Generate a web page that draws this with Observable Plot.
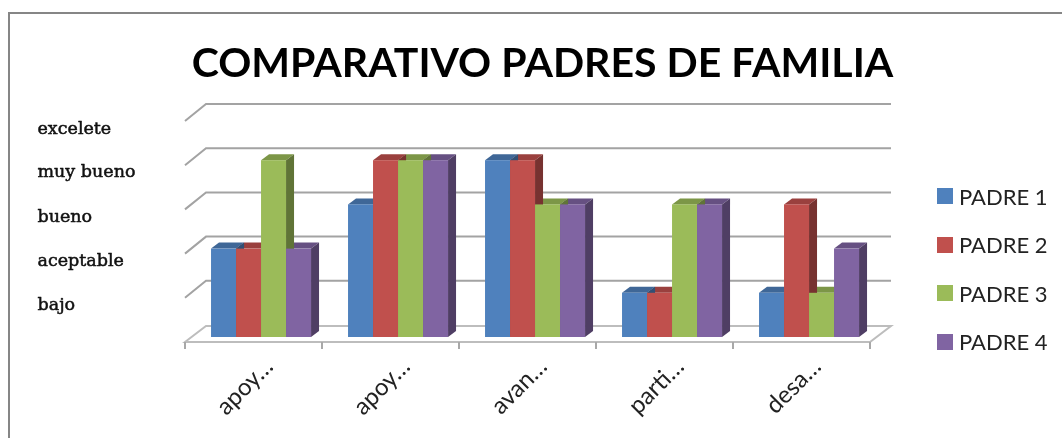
<!DOCTYPE html>
<html><head><meta charset="utf-8">
<script src="https://cdn.jsdelivr.net/npm/d3@7"></script>
<script src="https://cdn.jsdelivr.net/npm/@observablehq/plot@0.6"></script>
<style>
html,body{margin:0;padding:0;background:#fff;overflow:hidden}
#wrap{position:relative;width:1062px;height:438px;overflow:hidden;filter:blur(0.35px)}
#border{position:absolute;left:8px;top:12px;width:1080px;height:460px;border:2px solid #868686;box-sizing:border-box}
#title{position:absolute;left:190px;top:37px;width:705px;text-align:center;font:bold 41px Lato,sans-serif;color:#000;white-space:nowrap}
#legend{position:absolute;left:937px;top:172px;font:22px Lato,sans-serif;color:#222}
.item{display:flex;align-items:center;height:48.5px;white-space:nowrap}
.sw{width:16px;height:16px;margin-right:6px;display:inline-block}
svg{position:absolute;left:0;top:0}
</style></head><body><div id="wrap"><div id="border"></div></div>
<script>
const chartTitle = "COMPARATIVO PADRES DE FAMILIA";
const categories = ["apoy…","apoy…","avan…","parti…","desa…"];
const seriesNames = ["PADRE 1","PADRE 2","PADRE 3","PADRE 4"];
const colors = ["#4f81bd","#c0504d","#9bbb59","#8064a2"];
const padre1 = [2,3,4,1,1];
const padre2 = [2,4,4,1,3];
const padre3 = [4,4,3,3,1];
const padre4 = [2,4,3,3,2];
const levelLabels = ["bajo","aceptable","bueno","muy bueno","excelete"];
const levelLabelValues = [0.74,1.75,2.74,3.76,4.73];
const gridValues = [0,1,2,3,4,5];

const table = [padre1,padre2,padre3,padre4].flatMap((vals,s)=>vals.map((v,i)=>({i,s,v})));
const gap = 0.19, barW = 0.1825;
const x1 = d => d.i + gap + d.s*barW;
const x2 = d => x1(d) + barW;

const darker = (c,k)=>{const r=d3.rgb(c);return d3.rgb(r.r*k,r.g*k,r.b*k).formatHex();};

function walls(index,{x,y}){
  const g = d3.create("svg:g").attr("fill","none").attr("stroke","#a3a3a3").attr("stroke-width",2);
  const x0=x(0), xE=x(5);
  const floor = y(0);
  for(const v of gridValues){
    const py = y(v);
    if(v===0) continue;
    g.append("path").attr("d",`M${x0},${py+5}L${x0+21},${py-12}H${xE+21}`);
  }
  const fl = floor+5;
  g.append("path").attr("stroke","#bdbdbd").attr("d",`M${x0},${fl}L${x0+21},${fl-16}H${xE+21}L${xE},${fl}Z`);
  for(let i=0;i<=categories.length;i++){
    g.append("path").attr("stroke","#a8a8a8").attr("d",`M${x(i)},${fl}V${fl+7}`);
  }
  return g.node();
}
function faces(index,{x,y}){
  const g = d3.create("svg:g");
  const rows = table.slice().sort((a,b)=>a.i-b.i||b.s-a.s);
  for(const d of rows){
    const xa=x(x1(d)), xb=x(x2(d)), yt=y(d.v), yb=y(0), dx=8, dy=6;
    g.append("path").attr("fill",darker(colors[d.s],0.8))
      .attr("d",`M${xa},${yt}L${xa+dx},${yt-dy}H${xb+dx}L${xb},${yt}Z`);
    g.append("path").attr("fill",darker(colors[d.s],0.62))
      .attr("d",`M${xb},${yt}L${xb+dx},${yt-dy}V${yb-dy}L${xb},${yb}Z`);
  }
  return g.node();
}

const plot = Plot.plot({
  width:1062,height:438,margin:0,
  x:{type:"linear",domain:[0,5],range:[185,870],axis:null},
  y:{type:"linear",domain:[0,5],range:[337,116],axis:null},
  color:{domain:seriesNames,range:colors},
  style:{background:"transparent"},
  marks:[
    walls,
    faces,
    Plot.rect(table,{x1,x2,y1:0,y2:"v",fill:d=>seriesNames[d.s]}),
    Plot.text(levelLabels,{x:()=>0,y:(d,i)=>levelLabelValues[i],text:d=>d,textAnchor:"start",dx:-148,fontSize:17.5,fontFamily:"'DejaVu Serif',serif",fill:"#111",stroke:"#111",strokeWidth:0.5}),
    Plot.text(categories,{x:(d,i)=>i+0.5,y:()=>-0.57,text:d=>d,rotate:-45,textAnchor:"end",dx:15,fontSize:24,fontFamily:"Lato,sans-serif",fill:"#222"})
  ]
});
const wrap = document.getElementById("wrap");
wrap.appendChild(plot);
const t = document.createElement("div"); t.id="title"; t.textContent=chartTitle; wrap.appendChild(t);
const lg = document.createElement("div"); lg.id="legend";
seriesNames.forEach((n,i)=>{
  const it=document.createElement("div"); it.className="item";
  const s=document.createElement("span"); s.className="sw"; s.style.background=colors[i];
  it.appendChild(s); it.appendChild(document.createTextNode(n)); lg.appendChild(it);
});
wrap.appendChild(lg);
</script></body></html>
